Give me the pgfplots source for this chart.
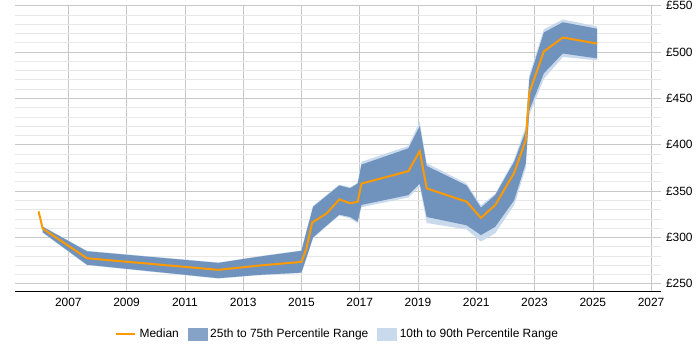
\documentclass[border=0pt]{standalone}
\usepackage{fontspec}
\setmainfont{Liberation Sans}
\usepackage{pgfplots}
\pgfplotsset{compat=1.18}

\definecolor{medianorange}{HTML}{FF9900}
\definecolor{iqrblue}{HTML}{6F93BD}
\definecolor{decblue}{HTML}{C9DAED}
\definecolor{majgrid}{RGB}{200,200,200}
\definecolor{mingrid}{RGB}{232,232,232}

\begin{document}
\begin{tikzpicture}
\useasboundingbox (0,0) rectangle (700bp,350bp);
\begin{axis}[
  at={(15bp,58bp)}, anchor=south west,
  scale only axis,
  width=646bp, height=287bp,
  xmin=2005.17, xmax=2027.34,
  ymin=241.1, ymax=550.6,
  xtick={2007,2009,...,2027},
  ytick={250,300,...,550},
  minor y tick num=4,
  grid=both,
  major grid style={majgrid, line width=0.6bp},
  minor grid style={mingrid, line width=0.6bp},
  major tick length=0pt, minor tick length=0pt,
  axis line style={draw=none},
  yticklabel pos=right,
  tick label style={font=\fontsize{12}{14}\selectfont},
  /pgf/number format/assume math mode=true,
  xticklabel style={/pgf/number format/1000 sep={}, yshift=-3bp},
  yticklabel={£\pgfmathprintnumber{\tick}},
  yticklabel style={xshift=1.5bp},
  legend columns=3,
  legend style={at={(0.5,-0.146)}, anchor=center, draw=none, fill=none,
    font=\fontsize{12}{14}\selectfont,
    nodes={inner sep=3bp},
    /tikz/every even column/.append style={column sep=6bp}},
]
% 10th to 90th percentile band (90th forwards, 10th backwards)
\addplot[fill=decblue, draw=none, forget plot] coordinates {
  (2006.12,312) (2007.64,285.5) (2012.15,273) (2013.50,279.5) (2015.00,286)
  (2015.17,307) (2015.40,334) (2015.87,346) (2016.30,357) (2016.67,354)
  (2016.93,359) (2017.06,381.5) (2018.67,398.5) (2019.06,425) (2019.30,380)
  (2020.67,358) (2021.16,334.5) (2021.65,347) (2022.30,384) (2022.70,420)
  (2022.82,475) (2023.32,524.5) (2023.97,535) (2025.15,527.5)
  (2025.15,491) (2023.97,494.5) (2023.32,471) (2022.82,432) (2022.70,375)
  (2022.30,334.8) (2021.65,304.5) (2021.16,295.5) (2020.67,308.5) (2019.30,315.5)
  (2019.06,355) (2018.67,343) (2017.06,332.5) (2016.93,315.5) (2016.67,320.5)
  (2016.30,323.5) (2015.87,312) (2015.40,299) (2015.17,277) (2015.00,261.5)
  (2013.50,259) (2012.15,255.5) (2007.64,270) (2006.12,305)
} -- cycle;
% 25th to 75th percentile band (75th forwards, 25th backwards)
\addplot[fill=iqrblue, draw=none, forget plot] coordinates {
  (2006.12,311.5) (2007.64,285) (2012.15,272.5) (2013.50,279) (2015.00,285.5)
  (2015.17,306) (2015.40,333) (2015.87,345) (2016.30,356) (2016.67,353)
  (2016.93,358) (2017.06,378.5) (2018.67,396) (2019.06,420) (2019.30,377)
  (2020.67,356) (2021.16,332) (2021.65,345.6) (2022.30,381.5) (2022.70,415)
  (2022.82,471) (2023.32,521) (2023.97,532) (2025.15,525)
  (2025.15,493) (2023.97,498.3) (2023.32,477) (2022.82,437) (2022.70,380)
  (2022.30,340) (2021.65,311.4) (2021.16,302.5) (2020.67,313) (2019.30,322)
  (2019.06,358) (2018.67,345.6) (2017.06,335) (2016.93,317) (2016.67,322)
  (2016.30,324.5) (2015.87,313) (2015.40,300) (2015.17,278) (2015.00,262)
  (2013.50,259.5) (2012.15,256) (2007.64,270.5) (2006.12,305.5)
} -- cycle;
% median
\addplot[medianorange, line width=2bp, forget plot] coordinates {
  (2005.98,328) (2006.12,309.5) (2007.64,277.5) (2012.15,265) (2013.50,269.5)
  (2015.00,273.5) (2015.17,288) (2015.37,316) (2015.87,326) (2016.30,341)
  (2016.67,336.8) (2016.93,338.4) (2017.06,358) (2018.67,371.4) (2019.06,393)
  (2019.30,352.8) (2020.67,338.5) (2021.16,321) (2021.65,334.8) (2022.30,369.5)
  (2022.70,405) (2022.82,456) (2023.32,500.5) (2023.97,515.5) (2025.15,509)
};
\draw[black, line width=1.2bp] (rel axis cs:0,0) -- (rel axis cs:1,0);

\addlegendimage{legend image code/.code={%
  \draw[medianorange, line width=2.6bp] (0bp,0bp) -- (19bp,0bp);}}
\addlegendentry{Median}
\addlegendimage{legend image code/.code={%
  \fill[iqrblue!85!white] (0bp,-6bp) rectangle (19bp,6bp);}}
\addlegendentry{25th to 75th Percentile Range}
\addlegendimage{legend image code/.code={%
  \fill[decblue] (0bp,-6bp) rectangle (19bp,6bp);}}
\addlegendentry{10th to 90th Percentile Range}
\end{axis}
\end{tikzpicture}
\end{document}
